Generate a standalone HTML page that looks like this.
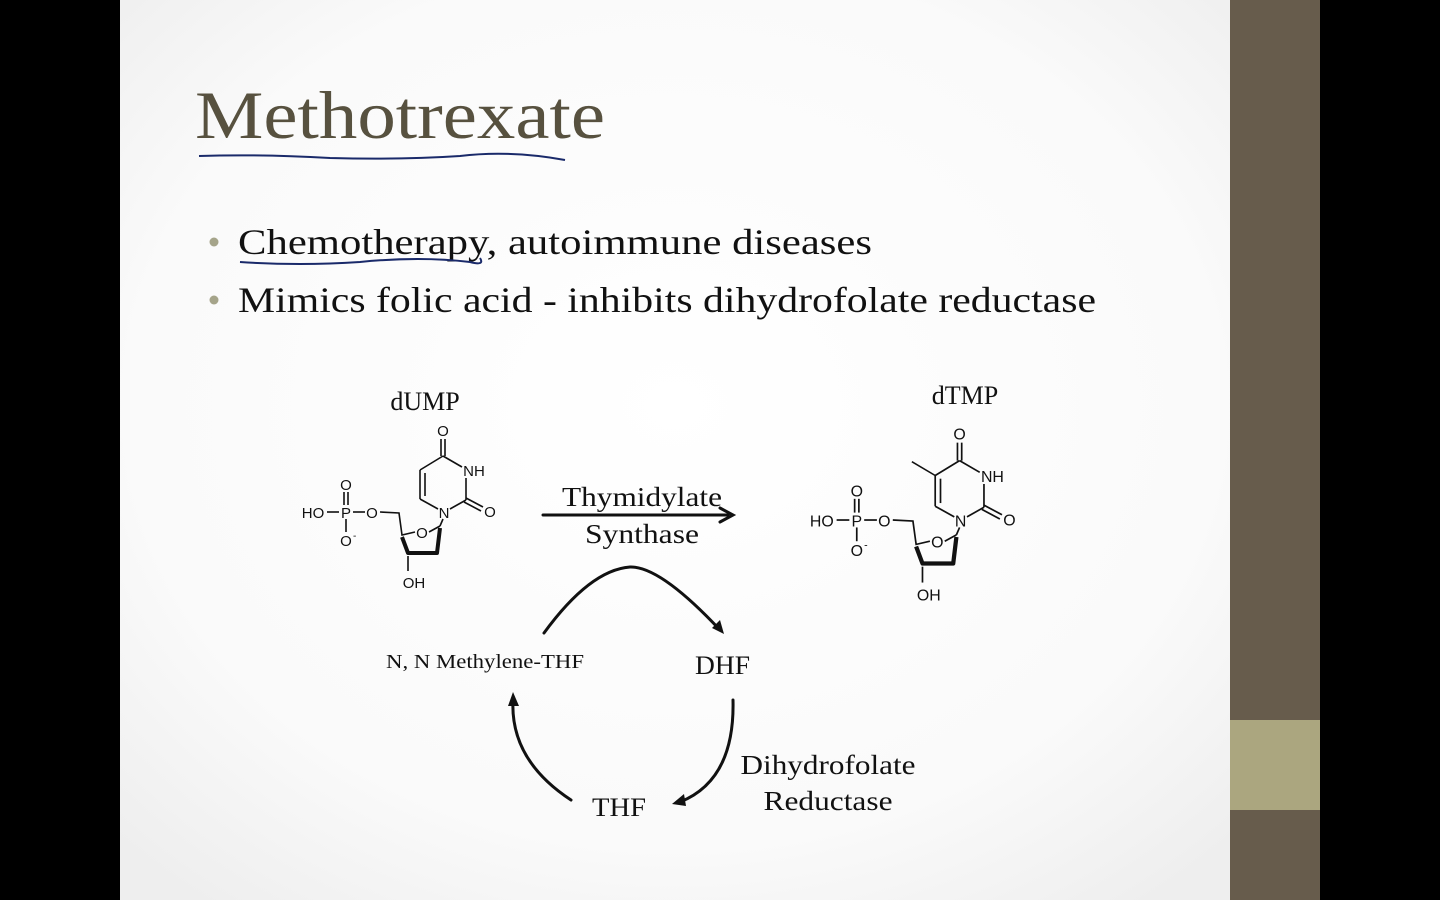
<!DOCTYPE html>
<html><head><meta charset="utf-8"><style>
html,body{margin:0;padding:0;background:#000;}
svg{display:block;}
</style></head><body>
<svg width="1440" height="900" viewBox="0 0 1440 900" xmlns="http://www.w3.org/2000/svg">
<defs>
<radialGradient id="bg" cx="0.5" cy="0.45" r="0.7">
<stop offset="0" stop-color="#ffffff"/><stop offset="0.7" stop-color="#fafafa"/><stop offset="1" stop-color="#eeeeee"/>
</radialGradient>
<g id="mol" font-family="Liberation Sans, sans-serif" font-size="15" fill="#111" stroke="none">
  <text x="313" y="518" text-anchor="middle">HO</text>
  <text x="346" y="518" text-anchor="middle">P</text>
  <text x="372" y="518" text-anchor="middle">O</text>
  <text x="346" y="490" text-anchor="middle">O</text>
  <text x="346" y="546" text-anchor="middle">O</text>
  <text x="353" y="539" font-size="10">-</text>
  <text x="422" y="538" text-anchor="middle">O</text>
  <text x="414" y="588" text-anchor="middle">OH</text>
  <text x="444" y="518" text-anchor="middle">N</text>
  <text x="474" y="476" text-anchor="middle">NH</text>
  <text x="443" y="436" text-anchor="middle">O</text>
  <text x="490" y="517" text-anchor="middle">O</text>
  <g stroke="#111" stroke-width="1.6" fill="none">
    <line x1="327" y1="512" x2="339" y2="512"/>
    <line x1="353" y1="512" x2="365" y2="512"/>
    <line x1="344" y1="492" x2="344" y2="505"/><line x1="348" y1="492" x2="348" y2="505"/>
    <line x1="346" y1="519" x2="346" y2="532"/>
    <polyline points="380,512 399,513 402,535 415,532"/>
    <line x1="429" y1="532" x2="440" y2="526"/>
    <line x1="408" y1="556" x2="408" y2="571"/>
    <line x1="440" y1="526" x2="443" y2="519"/>
    <line x1="438" y1="509" x2="420" y2="499"/>
    <line x1="420" y1="499" x2="420" y2="470"/>
    <line x1="425" y1="496" x2="425" y2="473"/>
    <line x1="420" y1="470" x2="443" y2="456"/>
    <line x1="443" y1="456" x2="462" y2="467"/>
    <line x1="466" y1="478" x2="466" y2="500"/>
    <line x1="450" y1="509" x2="466" y2="500"/>
    <line x1="441" y1="439" x2="441" y2="456"/><line x1="445" y1="439" x2="445" y2="456"/>
    <line x1="466" y1="498" x2="483" y2="507"/><line x1="464" y1="502" x2="481" y2="511"/>
  </g>
  <g stroke="#111" stroke-width="4" fill="none" stroke-linejoin="round">
    <polyline points="402,537 408,553 437,553 440,528"/>
  </g>
</g>
</defs>
<rect x="0" y="0" width="1440" height="900" fill="#000"/>
<rect x="120" y="0" width="1110" height="900" fill="url(#bg)"/>
<rect x="1230" y="0" width="90" height="900" fill="#675c4c"/>
<rect x="1230" y="720" width="90" height="90" fill="#aba67f"/>

<text x="195" y="138" font-family="Liberation Serif, serif" font-size="68" fill="#57513f" textLength="410" lengthAdjust="spacingAndGlyphs">Methotrexate</text>
<path d="M199 156 Q260 154 330 158 Q400 160 460 156 Q510 150 565 160" stroke="#1a2a6a" stroke-width="2" fill="none"/>

<circle cx="214" cy="242" r="4.5" fill="#a5a48a"/>
<circle cx="214" cy="300" r="4.5" fill="#a5a48a"/>
<text x="238" y="254" font-family="Liberation Serif, serif" font-size="36" fill="#111" textLength="634" lengthAdjust="spacingAndGlyphs">Chemotherapy, autoimmune diseases</text>
<text x="238" y="312" font-family="Liberation Serif, serif" font-size="36" fill="#111" textLength="858" lengthAdjust="spacingAndGlyphs">Mimics folic acid - inhibits dihydrofolate reductase</text>
<path d="M240 262 Q300 266 360 262 Q420 256 470 262 Q485 266 480 258" stroke="#1a2a6a" stroke-width="2" fill="none"/>

<g font-family="Liberation Serif, serif" fill="#111">
<text x="425" y="410" font-size="26" text-anchor="middle">dUMP</text>
<text x="965" y="404" font-size="26" text-anchor="middle">dTMP</text>
<text x="642" y="506" font-size="27" text-anchor="middle" textLength="160" lengthAdjust="spacingAndGlyphs">Thymidylate</text>
<text x="642" y="543" font-size="27" text-anchor="middle" textLength="114" lengthAdjust="spacingAndGlyphs">Synthase</text>
<text x="386" y="668" font-size="20" textLength="198" lengthAdjust="spacingAndGlyphs">N, N Methylene-THF</text>
<text x="695" y="674" font-size="26" textLength="55" lengthAdjust="spacingAndGlyphs">DHF</text>
<text x="592" y="816" font-size="26" textLength="54" lengthAdjust="spacingAndGlyphs">THF</text>
<text x="828" y="774" font-size="27" text-anchor="middle" textLength="175" lengthAdjust="spacingAndGlyphs">Dihydrofolate</text>
<text x="828" y="810" font-size="27" text-anchor="middle" textLength="129" lengthAdjust="spacingAndGlyphs">Reductase</text>
</g>

<use href="#mol"/>
<g transform="translate(490,-22.7) scale(1.06)">
<use href="#mol"/>
<line x1="420" y1="470" x2="398" y2="457" stroke="#111" stroke-width="1.5"/>
</g>

<g stroke="#111" stroke-width="3" fill="none" stroke-linecap="round">
<line x1="543" y1="515" x2="728" y2="515"/>
<path d="M720 508 L733 515 L720 522"/>
<path d="M544 633 Q590 570 630 567 Q660 566 720 630"/>
<path d="M733 700 Q735 780 680 802"/>
<path d="M571 800 Q510 760 513 700"/>
</g>
<g fill="#111">
<polygon points="724,634 712,628 720,620"/>
<polygon points="672,804 684,794 686,806"/>
<polygon points="513,692 508,706 519,706"/>
</g>
</svg>
</body></html>
